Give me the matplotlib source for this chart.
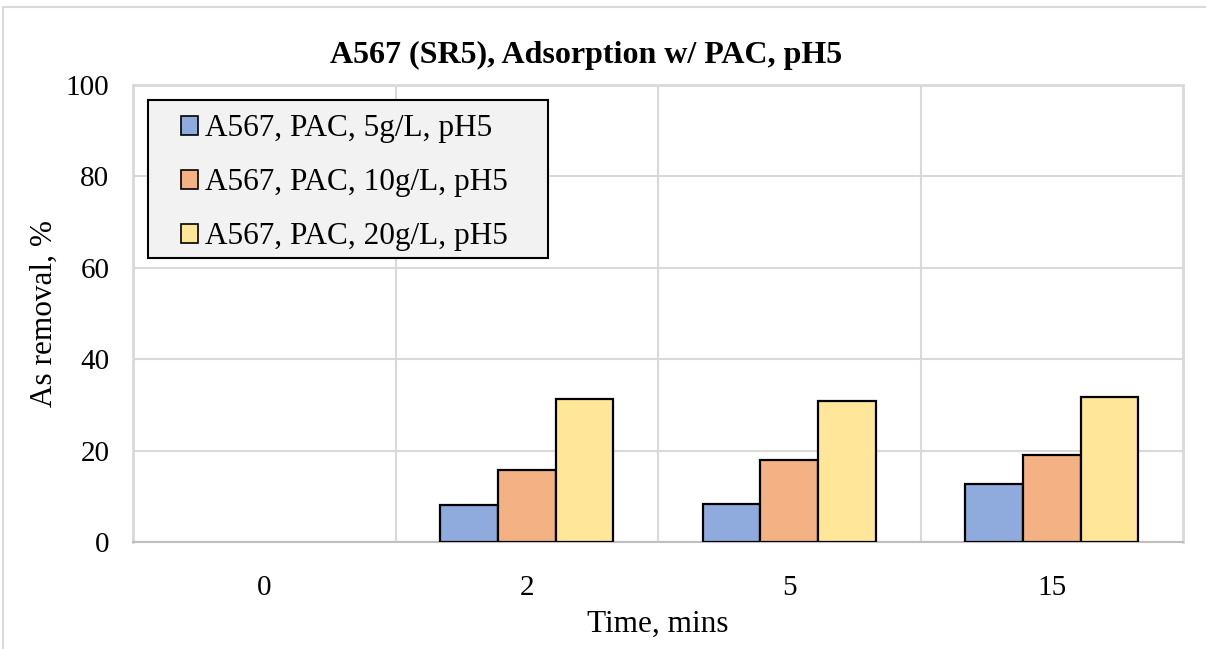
import matplotlib
matplotlib.use("Agg")
import matplotlib.pyplot as plt
import numpy as np
from matplotlib.lines import Line2D
from matplotlib.patches import Rectangle

categories = ["0", "2", "5", "15"]
series_names = ["A567, PAC, 5g/L, pH5", "A567, PAC, 10g/L, pH5", "A567, PAC, 20g/L, pH5"]
pac_5 = [0, 8.0, 8.4, 12.7]
pac_10 = [0, 15.8, 17.9, 19.0]
pac_20 = [0, 31.3, 30.9, 31.7]
colors = ["#8faadc", "#f4b183", "#ffe699"]

plt.rcParams['font.family'] = ['Liberation Serif', 'DejaVu Serif']

W, H = 1206, 649
fig = plt.figure(figsize=(W / 100, H / 100), dpi=100)
ax = fig.add_axes([133/W, 1 - 542/H, (1183-133)/W, (542-85)/H])

x = np.arange(len(categories))
width = 0.22
for i, (vals, name, c) in enumerate(zip([pac_5, pac_10, pac_20], series_names, colors)):
    edges = ["black" if v > 0 else "none" for v in vals]
    ax.bar(x + (i - 1) * width, vals, width, color=c, edgecolor=edges,
           linewidth=1.6, zorder=3)
    # legend proxy
    ax.bar([np.nan], [np.nan], color=c, edgecolor="black", linewidth=1.2, label=name)

ax.set_xlim(-0.5, len(categories) - 0.5)
ax.set_ylim(0, 100)
ax.set_yticks(np.arange(0, 101, 20))
ax.set_xticks(x)
ax.set_xticklabels(categories)
ax.tick_params(axis="both", length=0, labelsize=21, colors="black")
ax.tick_params(axis="y", pad=17)
ax.tick_params(axis="x", pad=24)

# horizontal gridlines plus vertical separators between categories
ax.grid(axis="y", color="#d9d9d9", linewidth=1.5, zorder=0)
for b in np.arange(0.5, len(categories) - 0.5, 1):
    ax.axvline(b, color="#d9d9d9", linewidth=1.5, zorder=0)

for side in ["left", "top", "right"]:
    ax.spines[side].set_color("#d9d9d9")
    ax.spines[side].set_linewidth(2)
ax.spines["bottom"].set_color("#bfbfbf")
ax.spines["bottom"].set_linewidth(1.5)

ax.set_ylabel("As removal, %", fontsize=22.5, labelpad=5)
ax.set_xlabel("Time, mins", fontsize=22.5, labelpad=6)
fig.text(586/W, 1 - 55/H, "A567 (SR5), Adsorption w/ PAC, pH5",
         ha="center", va="center", fontsize=23, fontweight="bold")

# legend box drawn separately so its padding can be set freely
fig.add_artist(Rectangle((148/W, 1 - 258/H), 400/W, 158/H, transform=fig.transFigure,
                         facecolor="#f2f2f2", edgecolor="black", linewidth=1.5, zorder=4))
leg = fig.legend(loc="upper left", bbox_to_anchor=(175/W, 1 - 108/H), fontsize=22.5,
                 frameon=False, handlelength=0.55, handleheight=0.55, handletextpad=0.2,
                 labelspacing=0.8, borderpad=0.2, borderaxespad=0)
leg.set_zorder(5)

# outer chart border
fig.add_artist(Line2D([3/W, 3/W], [0, 1 - 7/H], transform=fig.transFigure,
                      color="#d9d9d9", linewidth=1.5))
fig.add_artist(Line2D([3/W, 1], [1 - 7/H, 1 - 7/H], transform=fig.transFigure,
                      color="#d9d9d9", linewidth=1.5))

fig.savefig("out.png", dpi=100)
